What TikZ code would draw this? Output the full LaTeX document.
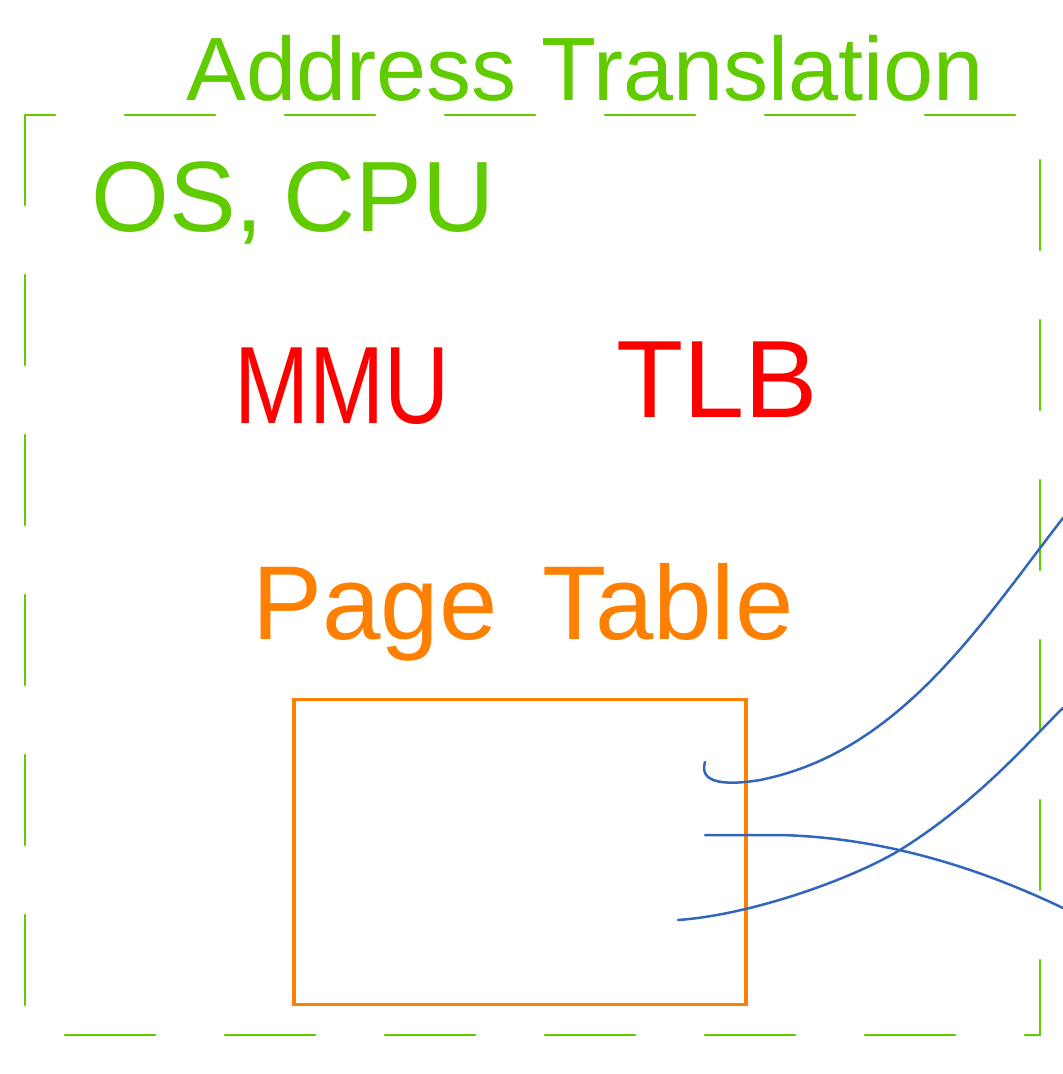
\documentclass[tikz,border=0pt]{standalone}
\usepackage{fontspec}
\setmainfont{Liberation Sans}
\definecolor{sketchgreen}{RGB}{96,204,0}
\definecolor{sketchred}{RGB}{255,0,0}
\definecolor{sketchorange}{RGB}{255,128,0}
\definecolor{sketchblue}{RGB}{51,102,187}

\begin{document}
\begin{tikzpicture}[x=1pt,y=-1pt,line cap=round,
	greentext/.style={text=sketchgreen, inner sep=0pt},
	redtext/.style={text=sketchred, inner sep=0pt},
	orangetext/.style={text=sketchorange, inner sep=0pt},
	wire/.style={draw=sketchblue, line width=2.5pt}]
		\useasboundingbox (0,0) rectangle (1063,1074);
		\draw[color=sketchgreen, line width=2.5pt, dash pattern=on 90pt off 70pt] (25,115) rectangle (1040,1035);
		\node[greentext, font=\fontsize{90}{100}\selectfont] (title) at (585,68) {Address Translation};
		\node[greentext, font=\fontsize{100}{110}\selectfont] (oscpu) at (293,203) {OS,\hspace{20pt}CPU};
		\node[redtext, font=\fontsize{110}{120}\selectfont, xscale=0.82] (mmu) at (342,386) {MMU};
		\node[redtext, font=\fontsize{110}{120}\selectfont] (tlb) at (717,380) {TLB};
		\node[orangetext, font=\fontsize{105}{115}\selectfont] (pagetable) at (523,612) {Page\hspace{45pt}Table};
		\node[draw=sketchorange, line width=3.5pt, minimum width=452pt, minimum height=305pt] (tablebox) at (520,852) {};
		\coordinate (in1) at (705,762);
		\coordinate (in2) at (705,835);
		\coordinate (in3) at (678,920);
		\coordinate (out1) at (1063,518);
		\coordinate (out2) at (1063,908);
		\coordinate (out3) at (1063,708);
		\draw[wire] (in1) .. controls (698,785) and (730,785) .. (760,780) .. controls (900,752) and (980,625) .. (out1);
		\draw[wire] (in2) -- (780,835) .. controls (900,838) and (1000,878) .. (out2);
		\draw[wire] (in3) .. controls (750,915) and (850,880) .. (900,850) .. controls (980,800) and (1030,740) .. (out3);
	\end{tikzpicture}
\end{document}
